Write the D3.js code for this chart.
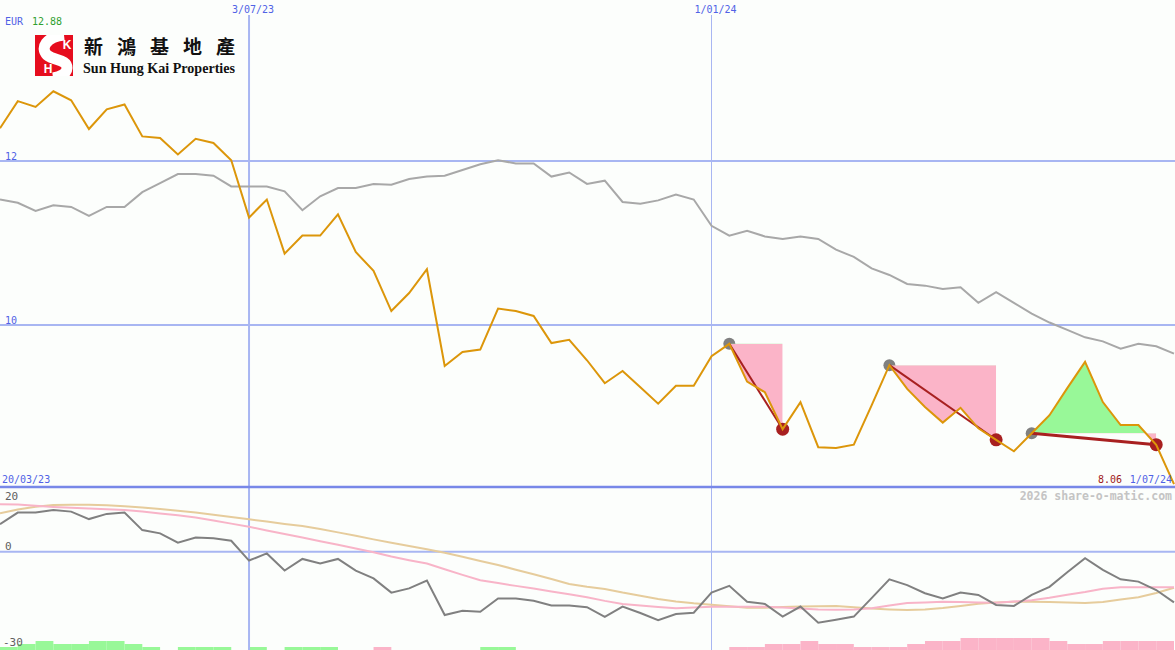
<!DOCTYPE html>
<html>
<head>
<meta charset="utf-8">
<script src="https://cdn.jsdelivr.net/npm/d3@7"></script>
<style>
  html, body { margin: 0; padding: 0; background: #fcfefc; }
  svg { display: block; }
</style>
</head>
<body>
<svg id="chart" width="1175" height="650"></svg>
<script>
// ---------- DATA (weekly, from 27/03/2023 to 1/07/2024) ----------
const startDate = new Date(2023, 2, 27);
const endDate = new Date(2024, 6, 1);
const firstLabelDate = new Date(2023, 2, 20);
const dates = d3.timeMonday.range(startDate, d3.timeDay.offset(endDate, 1));

// Share price (EUR)
const price = [12.40,12.73,12.66,12.85,12.74,12.39,12.63,12.69,12.30,12.28,
  12.08,12.27,12.22,12.01,11.31,11.53,10.87,11.09,11.09,11.35,
  10.89,10.66,10.17,10.39,10.68,9.50,9.67,9.70,10.20,10.17,
  10.11,9.78,9.82,9.57,9.29,9.44,9.24,9.04,9.26,9.26,
  9.62,9.77,9.31,9.18,8.73,9.06,8.51,8.50,8.54,9.02,
  9.51,9.22,9.00,8.81,8.99,8.74,8.60,8.46,8.68,8.90,
  9.23,9.55,9.06,8.78,8.78,8.54,8.06];

// Benchmark index rebased to the price scale
const benchmark = [11.53,11.49,11.39,11.46,11.44,11.33,11.44,11.44,11.62,11.73,
  11.84,11.84,11.82,11.69,11.69,11.69,11.63,11.40,11.57,11.67,
  11.67,11.72,11.71,11.78,11.81,11.82,11.89,11.96,12.01,11.97,
  11.97,11.81,11.86,11.72,11.76,11.50,11.48,11.52,11.59,11.53,
  11.21,11.09,11.15,11.08,11.05,11.08,11.05,10.92,10.83,10.69,
  10.61,10.50,10.48,10.44,10.46,10.27,10.40,10.27,10.14,10.03,
  9.94,9.85,9.80,9.71,9.77,9.74,9.65];

// Lower panel: momentum and its two averages
const momentum = [8.5,12.1,12.1,12.9,12.4,10.1,11.7,12.1,6.7,5.7,
  2.8,4.4,4.2,3.4,-2.7,-0.5,-5.8,-2.2,-3.6,-2.2,
  -5.8,-8.2,-12.6,-11.3,-8.9,-19.5,-18.2,-18.5,-14.4,-14.4,
  -15.1,-16.6,-16.6,-17.1,-20.1,-16.9,-18.9,-21.1,-19.2,-18.8,
  -12.6,-10.5,-15.4,-16.1,-20.0,-16.9,-21.9,-21.0,-20.0,-14.3,
  -8.5,-10.3,-12.8,-14.4,-12.6,-13.3,-16.4,-16.7,-13.3,-10.8,
  -6.3,-2.0,-5.6,-8.5,-9.2,-11.8,-15.6];

const maFast = [14.66,14.6,14.23,13.86,13.61,13.36,13.15,12.9,12.41,11.85,
  11.27,10.59,9.66,8.7,7.75,6.6,5.49,4.41,3.27,2.16,
  1.02,-0.12,-1.48,-2.59,-3.64,-5.37,-7.13,-8.8,-9.66,-10.52,
  -11.33,-12.22,-13.12,-14.04,-15.15,-16.11,-16.6,-17.04,-17.44,-17.22,
  -16.98,-16.94,-16.94,-16.94,-17.16,-17.5,-17.81,-17.9,-17.81,-17.44,
  -16.57,-15.83,-15.62,-15.4,-15.49,-15.62,-15.71,-15.37,-14.97,-14.2,
  -13.27,-12.41,-11.42,-10.96,-10.96,-10.96,-10.96];

const maSlow = [11.88,13.06,13.89,14.48,14.54,14.54,14.35,14.07,13.7,13.18,
  12.69,12.16,11.45,10.74,10.03,9.32,8.61,7.96,7.04,5.99,
  4.94,3.83,2.81,1.79,0.77,-0.28,-1.54,-2.81,-4.07,-5.52,
  -6.91,-8.4,-9.94,-10.77,-11.45,-12.59,-13.58,-14.57,-15.31,-15.9,
  -16.36,-16.82,-17.28,-17.25,-17.01,-16.88,-16.79,-16.73,-17.13,-17.53,
  -17.78,-17.93,-17.78,-17.38,-16.7,-16.05,-15.65,-15.4,-15.4,-15.46,
  -15.68,-15.83,-15.46,-14.72,-14.01,-12.69,-11.11];

// Weekly signal strength bars (+ green, - pink)
const signal = [1,2,3,2,2,3,3,2,1,0, 1,1,1,0,1,0,1,1,1,0,
  0,-1,0,0,0,0,0,1,1,0, 0,0,0,0,0,0,0,0,0,0,
  0,-1,-1,-2,-2,-3,-2,-2,-1,-1, -1,-2,-3,-3,-4,-4,-4,-4,-4,-3,
  -2,-2,-3,-3,-3,-3,0];

// Swing segments: [start week index, end week index]
const swings = [[41,44],[50,56],[58,65]];

const priceTicks = [10, 12];
const lowerTicks = [20, 0, -30];
const markerDates = [new Date(2023,6,3), new Date(2024,0,1)];
const currency = "EUR";
const highLabel = "12.88";
const watermark = "2026 share-o-matic.com";
const fmt = d3.timeFormat("%-d/%m/%y");

// ---------- SCALES ----------
const x = d3.scaleTime().domain([startDate, endDate]).range([0, 1174]);
const yP = d3.scaleLinear().domain([10, 12]).range([325, 161]);
const yL = d3.scaleLinear().domain([-30, 20]).range([649, 487]);
const yBar = d3.scaleLinear().domain([0, 4]).range([650, 638]);

const mono = "DejaVu Sans Mono, monospace";
const svg = d3.select("#chart");
svg.append("rect").attr("width", 1175).attr("height", 650).attr("fill", "#fcfefc");
const defs = svg.append("defs");

// ---------- LOWER PANEL BARS ----------
svg.append("g").selectAll("rect")
  .data(signal.map((s, i) => ({s, i})).filter(d => d.s !== 0 && d.i < dates.length - 1))
  .join("rect")
  .attr("x", d => x(dates[d.i]))
  .attr("width", d => x(dates[d.i + 1]) - x(dates[d.i]))
  .attr("y", d => yBar(Math.abs(d.s)))
  .attr("height", d => yBar(0) - yBar(Math.abs(d.s)))
  .attr("fill", d => d.s > 0 ? "#98f898" : "#fbb4c8");

// ---------- GRID ----------
const grid = svg.append("g");
grid.selectAll("line.h").data(priceTicks).join("line")
  .attr("x1", 0).attr("x2", 1175)
  .attr("y1", d => yP(d)).attr("y2", d => yP(d))
  .attr("stroke", "#a8b6f2").attr("stroke-width", 2);
grid.append("line").attr("x1", 0).attr("x2", 1175)
  .attr("y1", yL(0)).attr("y2", yL(0))
  .attr("stroke", "#a8b6f2").attr("stroke-width", 2);
grid.selectAll("line.v").data(markerDates).join("line")
  .attr("x1", d => x(d)).attr("x2", d => x(d))
  .attr("y1", 15).attr("y2", 650)
  .attr("stroke", "#a8b6f2").attr("stroke-width", (d, i) => i === 0 ? 2 : 1);
grid.append("line").attr("x1", 0).attr("x2", 1175)
  .attr("y1", 487).attr("y2", 487)
  .attr("stroke", "#7888e8").attr("stroke-width", 2.5);

// ---------- MAIN PANEL ----------
const lineP = arr => d3.line().x((d, i) => x(dates[i])).y(d => yP(d))(arr);
const lineL = arr => d3.line().x((d, i) => x(dates[i])).y(d => yL(d))(arr);

svg.append("path").attr("d", lineP(benchmark))
  .attr("fill", "none").attr("stroke", "#a8a8a8").attr("stroke-width", 2);

// gray peak dots (under the fills)
svg.append("g").selectAll("circle").data(swings).join("circle")
  .attr("cx", d => x(dates[d[0]])).attr("cy", d => yP(price[d[0]]))
  .attr("r", 6).attr("fill", "#808080");

// fills between the reference level and the price
swings.forEach((sw, k) => {
  const [a, b] = sw;
  const ref = price[a];
  const idx = d3.range(a, b + 1);
  const x0 = x(dates[a]), x1 = x(dates[b]);
  defs.append("clipPath").attr("id", "up" + k).append("rect")
    .attr("x", x0).attr("width", x1 - x0).attr("y", 0).attr("height", yP(ref));
  defs.append("clipPath").attr("id", "dn" + k).append("rect")
    .attr("x", x0).attr("width", x1 - x0).attr("y", yP(ref)).attr("height", 487 - yP(ref));
  const area = d3.area().x(i => x(dates[i])).y0(yP(ref)).y1(i => yP(price[i]));
  svg.append("path").attr("d", area(idx)).attr("fill", "#98f898").attr("clip-path", `url(#up${k})`);
  svg.append("path").attr("d", area(idx)).attr("fill", "#fbb4c8").attr("clip-path", `url(#dn${k})`);
});

// trough dots
svg.append("g").selectAll("circle").data(swings).join("circle")
  .attr("cx", d => x(dates[d[1]])).attr("cy", d => yP(price[d[1]]))
  .attr("r", 6.5).attr("fill", "#a82020");

// connecting lines
svg.append("g").selectAll("line").data(swings).join("line")
  .attr("x1", d => x(dates[d[0]])).attr("y1", d => yP(price[d[0]]))
  .attr("x2", d => x(dates[d[1]])).attr("y2", d => yP(price[d[1]]))
  .attr("stroke", "#a82020").attr("stroke-width", (d, i) => i === swings.length - 1 ? 3 : 2);

svg.append("path").attr("d", lineP(price))
  .attr("fill", "none").attr("stroke", "#dc960a").attr("stroke-width", 2);

// ---------- LOWER PANEL LINES ----------
svg.append("path").attr("d", lineL(maSlow))
  .attr("fill", "none").attr("stroke", "#e6cc9c").attr("stroke-width", 2);
svg.append("path").attr("d", lineL(maFast))
  .attr("fill", "none").attr("stroke", "#f8b4c8").attr("stroke-width", 2);
svg.append("path").attr("d", lineL(momentum))
  .attr("fill", "none").attr("stroke", "#808080").attr("stroke-width", 2);

// ---------- TEXT ----------
const txt = (s, xx, yy, color, opts = {}) => svg.append("text")
  .attr("x", xx).attr("y", yy).attr("fill", color)
  .attr("font-family", opts.family || mono)
  .attr("font-size", opts.size || 10)
  .attr("font-weight", opts.weight || "normal")
  .attr("text-anchor", opts.anchor || "start")
  .text(s);

txt(currency, 5, 25, "#5062e6");
txt(highLabel, 32, 25, "#30a030");
markerDates.forEach(d => txt(fmt(d), x(d) + 4, 13, "#5062e6", {anchor: "middle"}));
priceTicks.forEach(t => txt(String(t), 5, yP(t) - 1, "#5062e6"));
txt(fmt(firstLabelDate), 2, 483, "#5062e6");
txt(d3.format(".2f")(price[price.length - 1]), 1098, 483, "#a01818");
txt(fmt(endDate), 1172, 483, "#5062e6", {anchor: "end"});
txt(watermark, 1172, 500, "#c4c4c4", {size: 11.5, weight: "bold", anchor: "end"});
const lowerLabelY = {20: 500, 0: 550, "-30": 646};
lowerTicks.forEach(t => txt(String(t), t < 0 ? 3 : 5, lowerLabelY[t], "#606060", {size: 11}));

// ---------- LOGO ----------
const logo = svg.append("g");
defs.append("clipPath").attr("id", "logoClip").append("rect")
  .attr("x", 35).attr("y", 35).attr("width", 38).attr("height", 41);
logo.append("rect").attr("x", 35).attr("y", 35).attr("width", 38).attr("height", 41).attr("fill", "#e60d1e");
logo.append("path")
  .attr("d", "M 64 35 C 46 37, 40 48, 47 55 C 54 61, 67 59, 67 68 C 67 73, 61 77, 53 78")
  .attr("fill", "none").attr("stroke", "#fff").attr("stroke-width", 11)
  .attr("clip-path", "url(#logoClip)");
logo.append("text").attr("x", 67).attr("y", 48.5).attr("text-anchor", "middle")
  .attr("font-family", "Liberation Sans, Arial").attr("font-weight", "bold").attr("font-size", 12)
  .attr("fill", "#fff").text("K");
logo.append("text").attr("x", 48).attr("y", 72.5).attr("text-anchor", "middle")
  .attr("font-family", "Liberation Sans, Arial").attr("font-weight", "bold").attr("font-size", 12)
  .attr("fill", "#fff").text("H");
logo.append("text").attr("x", 84).attr("y", 54)
  .attr("font-family", "Noto Sans CJK TC").attr("font-weight", "bold").attr("font-size", 19)
  .attr("textLength", 151).attr("lengthAdjust", "spacing")
  .attr("fill", "#111").text("新鴻基地產");
logo.append("text").attr("x", 83).attr("y", 73)
  .attr("font-family", "Liberation Serif, Times New Roman").attr("font-weight", "bold").attr("font-size", 14.5)
  .attr("textLength", 152).attr("lengthAdjust", "spacingAndGlyphs")
  .attr("fill", "#111").text("Sun Hung Kai Properties");
</script>
</body>
</html>
